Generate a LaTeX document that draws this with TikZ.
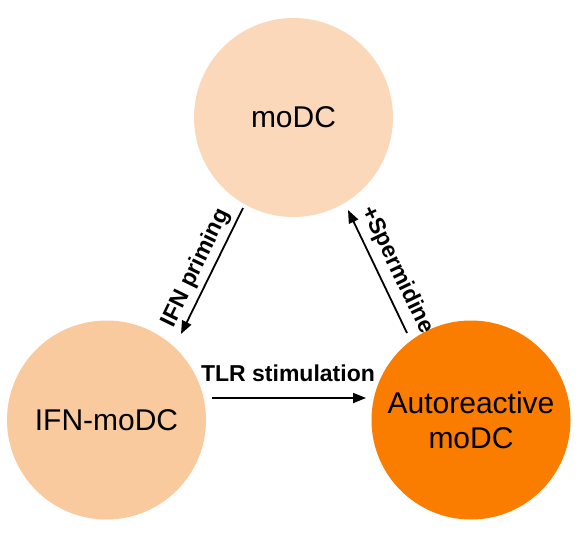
\documentclass[tikz,border=0pt]{standalone}
\usepackage{fontspec}
\setmainfont{Liberation Sans}
\usetikzlibrary{arrows.meta}
\definecolor{peachtop}{HTML}{FCD8BA}
\definecolor{peachleft}{HTML}{FACA9F}
\definecolor{autoorange}{HTML}{FA7D00}
\begin{document}
\begin{tikzpicture}[x=1pt,y=1pt,
  cell/.style={circle, minimum size=199pt, inner sep=0pt, draw=none,
    font=\fontsize{30}{35}\selectfont, align=center},
  conn/.style={line width=1.8pt, -{Triangle[length=13pt,width=10pt]}},
  lab/.style={font=\fontsize{23}{27}\selectfont\bfseries, inner sep=0pt}]
\useasboundingbox (0,0) rectangle (583,544);
\node[cell, fill=peachtop] (mo) at (293.5,426.5) {moDC};
\node[cell, fill=peachleft] (ifn) at (106.5,124) {IFN-moDC};
\node[cell, fill=autoorange] (auto) at (471,124) {Autoreactive\\moDC};
\coordinate (a1) at (243,336);
\coordinate (a2) at (181,210);
\coordinate (b1) at (407,211);
\coordinate (b2) at (348,334);
\coordinate (c1) at (212,146);
\coordinate (c2) at (366,146);
\draw[conn] (a1) -- (a2);
\draw[conn] (b1) -- (b2);
\draw[conn] (c1) -- (c2);
\node[lab, rotate=64] (lifn) at (196,276) {IFN priming};
\node[lab, rotate=-64.4] (lsp) at (397,274) {+Spermidine};
\node[lab] (ltlr) at (288,171) {TLR stimulation};
\end{tikzpicture}
\end{document}
